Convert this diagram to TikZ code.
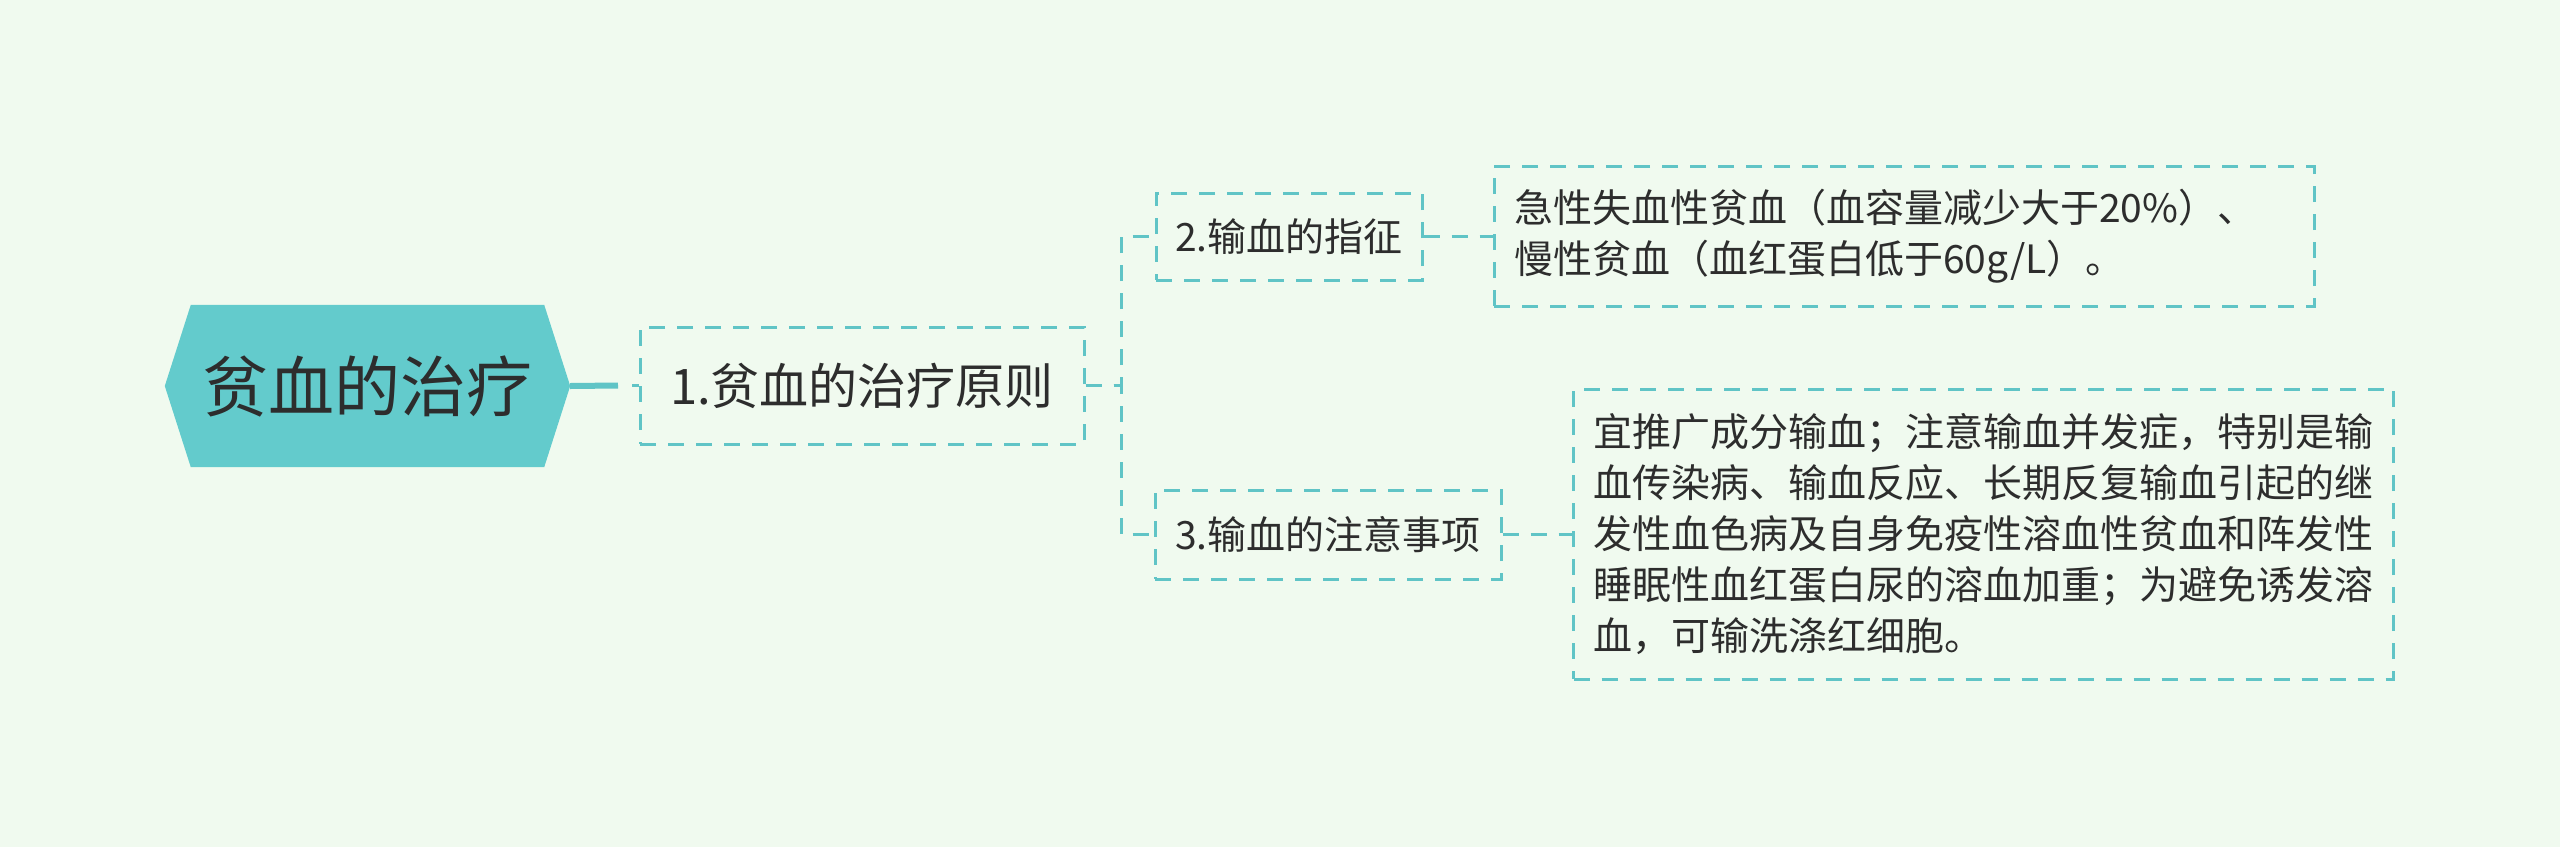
\documentclass[tikz,border=0pt]{standalone}
\usepackage{fontspec}
\setmainfont{Noto Sans CJK SC}
\definecolor{bg}{RGB}{240,250,239}
\definecolor{hexfill}{RGB}{99,203,204}
\definecolor{linecol}{RGB}{96,196,198}
\definecolor{txt}{RGB}{45,45,45}
\pgfdeclarelayer{background}
\pgfsetlayers{background,main}
\begin{document}
\begin{tikzpicture}[x=1pt,y=-1pt,
  dashbox/.style={draw=linecol, line width=3pt, dash pattern=on 16pt off 12pt, text=txt, inner sep=0pt},
  conn/.style={draw=linecol, line width=3pt, dash pattern=on 16pt off 12pt},
  lvltwo/.style={font=\fontsize{39}{51}\selectfont},
  rootnode/.style={inner sep=0pt, minimum width=405pt, minimum height=162pt, font=\fontsize{66}{70}\selectfont, text=txt}
]
\useasboundingbox (0,0) rectangle (2560,847);

\node[rootnode] (root) at (367.5,386) {贫血的治疗};

\node[dashbox, minimum width=444pt, minimum height=117pt, font=\fontsize{49}{55}\selectfont] (n1) at (862,385.5) {1.贫血的治疗原则};
\node[dashbox, lvltwo, minimum width=266pt, minimum height=87pt] (n2) at (1289,236.5) {2.输血的指征};
\node[dashbox, lvltwo, minimum width=346pt, minimum height=89pt] (n3) at (1328,534.5) {3.输血的注意事项};
\node[dashbox, lvltwo, text width=780pt, inner xsep=20pt, align=left, minimum height=140pt] (n4) at (1904,236) {急性失血性贫血（血容量减少大于20\%）、\\慢性贫血（血红蛋白低于60g/L）。};
\node[dashbox, lvltwo, text width=780pt, inner xsep=20pt, align=left, minimum height=290pt] (n5) at (1983.5,534) {宜推广成分输血；注意输血并发症，特别是输\\血传染病、输血反应、长期反复输血引起的继\\发性血色病及自身免疫性溶血性贫血和阵发性\\睡眠性血红蛋白尿的溶血加重；为避免诱发溶\\血，可输洗涤红细胞。};

\begin{pgfonlayer}{background}
\fill[bg] (0,0) rectangle (2560,847);
\fill[hexfill] (root.west) -- ([xshift=26pt]root.north west) -- ([xshift=-26pt]root.north east) -- (root.east) -- ([xshift=-26pt]root.south east) -- ([xshift=26pt]root.south west) -- cycle;
\end{pgfonlayer}

\coordinate (c1) at (618,385.5);
\draw[linecol, line width=6pt] (root.east) -- (c1);
\draw[linecol, line width=3pt, dash pattern=on 7pt off 60pt] (n1.west) -- (c1);
\coordinate (t) at (1121,385.5);
\draw[conn] (n1.east) -- (t) |- (n2.west);
\draw[conn] (n1.east) -- (t) |- (n3.west);
\draw[conn] (n2.east) -- (n2.east -| n4.west);
\draw[conn] (n3.east) -- (n3.east -| n5.west);
\end{tikzpicture}
\end{document}
